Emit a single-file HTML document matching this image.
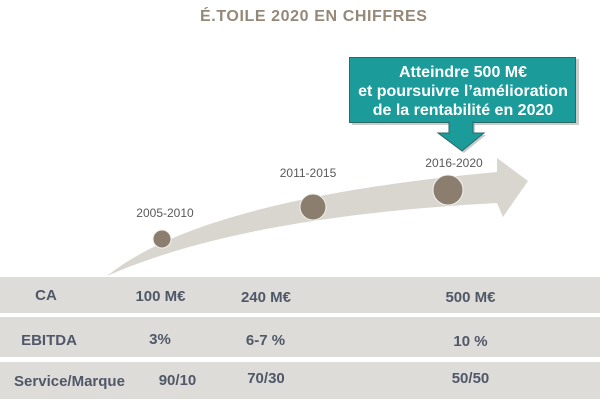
<!DOCTYPE html>
<html>
<head>
<meta charset="utf-8">
<style>
  html,body{margin:0;padding:0;background:#ffffff;}
  body{width:600px;height:411px;overflow:hidden;}
  svg{display:block;}
  .tl{font-family:"Liberation Sans",Arial,sans-serif;font-size:12px;fill:#595959;}
  .tb{font-family:"Liberation Sans",Arial,sans-serif;font-size:15px;font-weight:bold;fill:#4f5868;}
  .bx{font-family:"Liberation Sans",Arial,sans-serif;font-size:16px;font-weight:bold;fill:#ffffff;}
</style>
</head>
<body>
<svg width="600" height="411" viewBox="0 0 600 411" xmlns="http://www.w3.org/2000/svg">
  <rect x="0" y="0" width="600" height="411" fill="#ffffff"/>

  <!-- Title -->
  <text x="200" y="21" font-family="'Liberation Sans',Arial,sans-serif" font-size="16" font-weight="bold" fill="#968878" letter-spacing="0.6">É.TOILE 2020 EN CHIFFRES</text>

  <!-- Curved timeline arrow -->
  <path d="M107,276 C170,225 300,190 497,172 L497,158 L528,181 L503,217 L497,203 C330,212 200,235 107,276 Z" fill="#d9d5cf"/>

  <!-- Circles -->
  <circle cx="162" cy="239" r="9" fill="#8b7e6e" stroke="#f3f1ee" stroke-width="1"/>
  <circle cx="313" cy="207" r="13" fill="#8b7e6e" stroke="#f3f1ee" stroke-width="1"/>
  <circle cx="448" cy="190" r="15" fill="#8b7e6e" stroke="#f3f1ee" stroke-width="1"/>

  <!-- Timeline labels -->
  <text class="tl" x="165" y="217" text-anchor="middle">2005-2010</text>
  <text class="tl" x="308" y="177" text-anchor="middle">2011-2015</text>
  <text class="tl" x="454" y="167" text-anchor="middle">2016-2020</text>

  <!-- Callout box shadow -->
  <rect x="352" y="59" width="227" height="66" fill="#9a9a9a" opacity="0.5"/>
  <polygon points="451,124 475,124 475,135 486,135 464,153 440,135 451,135" fill="#9a9a9a" opacity="0.5"/>
  <!-- Callout box -->
  <rect x="349.5" y="57.5" width="226" height="65" fill="#1b9b9a" stroke="#2a6a68" stroke-width="1"/>
  <polygon points="449,122 473,122 473,133 484,133 462,151 438,133 449,133" fill="#1b9b9a" stroke="#2a6a68" stroke-width="1"/>
  <rect x="449.5" y="120" width="23" height="4" fill="#1b9b9a"/>
  <text class="bx" x="463" y="77" text-anchor="middle">Atteindre 500 M€</text>
  <text class="bx" x="463" y="96" text-anchor="middle">et poursuivre l’amélioration</text>
  <text class="bx" x="463" y="115" text-anchor="middle">de la rentabilité en 2020</text>

  <!-- Table rows -->
  <rect x="0" y="277" width="600" height="36" fill="#dedcd8"/>
  <rect x="0" y="317" width="600" height="40" fill="#dedcd8"/>
  <rect x="0" y="362" width="600" height="37" fill="#dedcd8"/>

  <!-- Row 1 -->
  <text class="tb" x="46" y="300" text-anchor="middle">CA</text>
  <text class="tb" x="160.5" y="301" text-anchor="middle">100 M€</text>
  <text class="tb" x="266" y="302" text-anchor="middle">240 M€</text>
  <text class="tb" x="470.5" y="302" text-anchor="middle">500 M€</text>

  <!-- Row 2 -->
  <text class="tb" x="49" y="345" text-anchor="middle">EBITDA</text>
  <text class="tb" x="160" y="344" text-anchor="middle">3%</text>
  <text class="tb" x="265.5" y="345" text-anchor="middle">6-7 %</text>
  <text class="tb" x="470.5" y="346" text-anchor="middle">10 %</text>

  <!-- Row 3 -->
  <text class="tb" x="69.5" y="386" text-anchor="middle">Service/Marque</text>
  <text class="tb" x="177.5" y="385" text-anchor="middle">90/10</text>
  <text class="tb" x="266" y="383" text-anchor="middle">70/30</text>
  <text class="tb" x="470.5" y="383" text-anchor="middle">50/50</text>
</svg>
</body>
</html>
